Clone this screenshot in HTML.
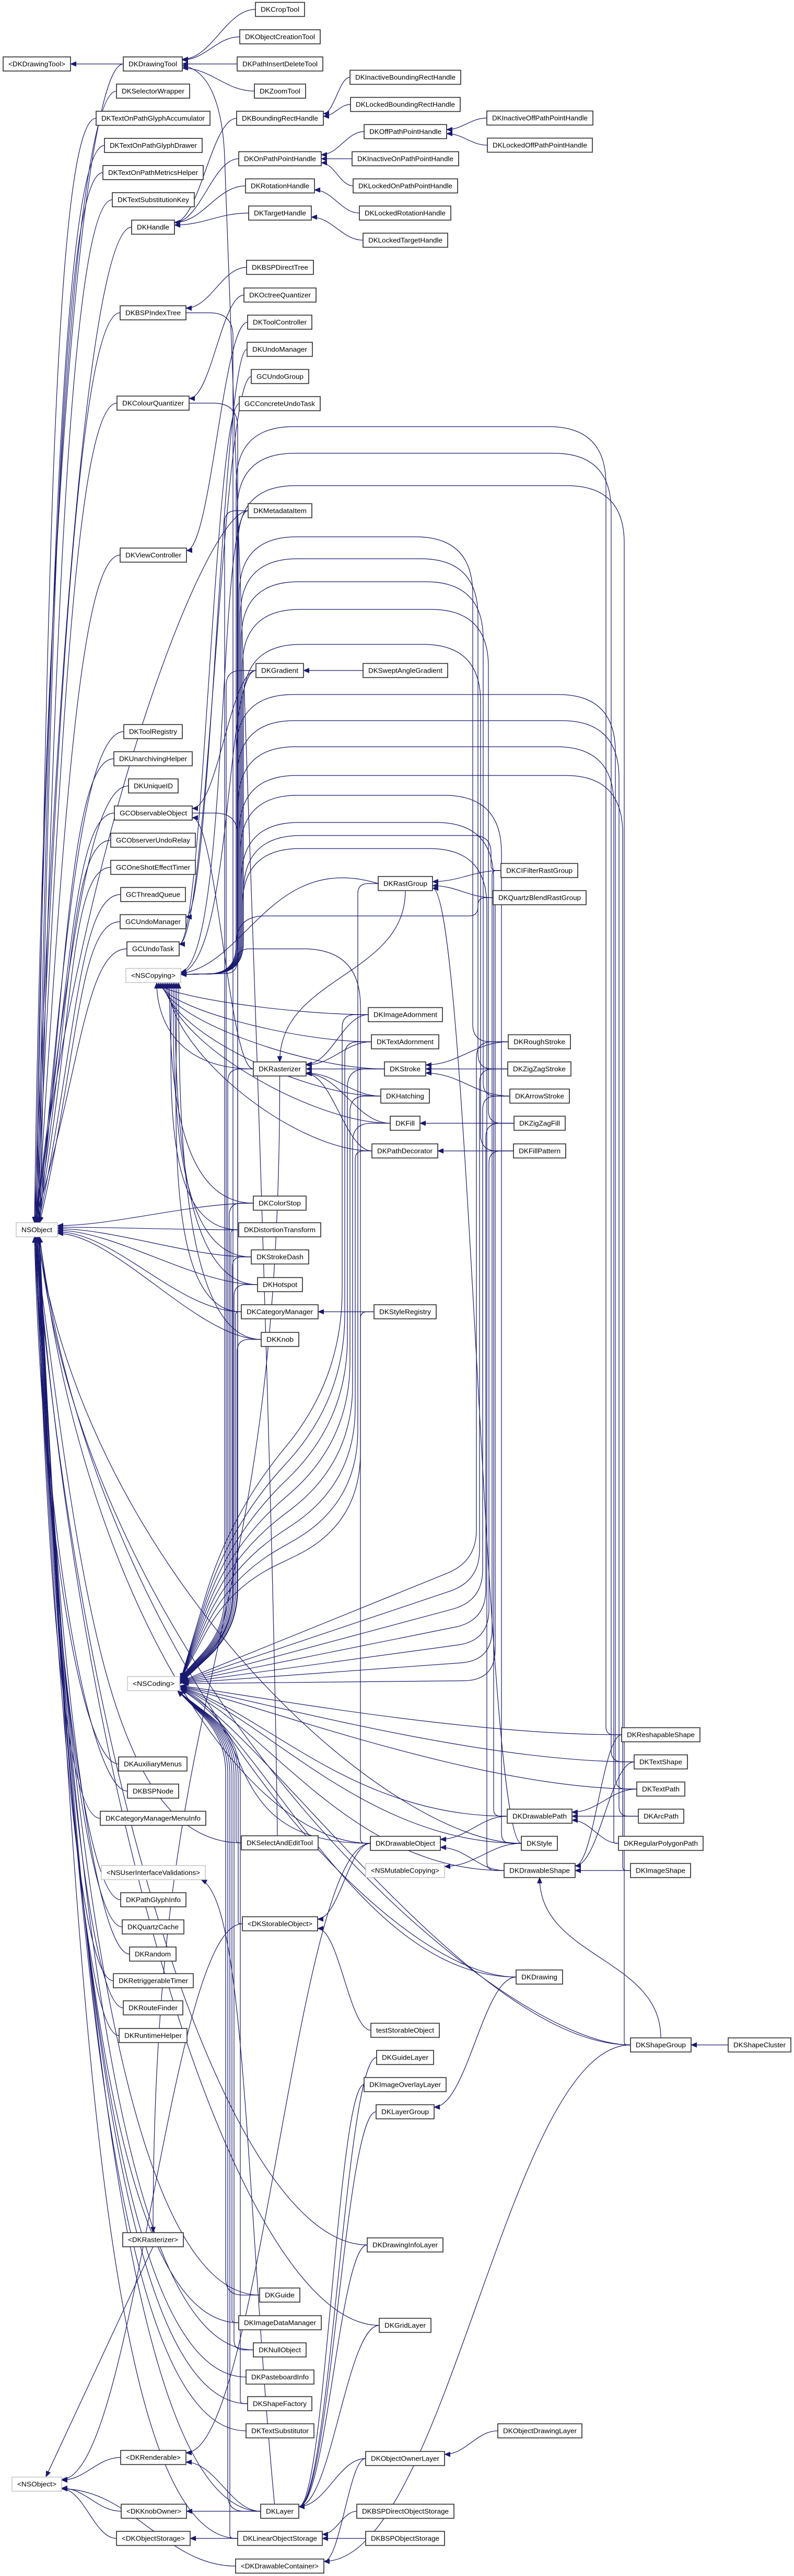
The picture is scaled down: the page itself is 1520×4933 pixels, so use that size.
<!DOCTYPE html>
<html><head><meta charset="utf-8">
<style>
html,body{margin:0;padding:0;background:#fff;}
svg{display:block;}
.n rect{fill:#fff;stroke:#2a2a2a;stroke-width:1.6;}
.n.g rect{stroke:#c0c0c0;stroke-width:1.4;}
.n text{font-family:"Liberation Sans",sans-serif;font-size:13px;fill:#000;text-anchor:middle;}
.e{fill:none;stroke:#191970;stroke-width:1.2;}
</style></head>
<body>
<svg id="s" xmlns="http://www.w3.org/2000/svg" width="1520" height="4933" viewBox="0 0 1520 4933">
<defs><marker id="a" viewBox="0 0 12 10" refX="11" refY="5" markerWidth="12" markerHeight="10" markerUnits="userSpaceOnUse" orient="auto"><path d="M0,0 L12,5 L0,10 z" fill="#191970"/></marker></defs>
<g id="edges"></g>
<g id="nodes">
<g class="n"><rect x="6" y="109" width="129" height="27"/><text x="70.5" y="127">&lt;DKDrawingTool&gt;</text></g>
<g class="n"><rect x="236" y="109" width="113" height="27"/><text x="292.5" y="127">DKDrawingTool</text></g>
<g class="n"><rect x="223" y="161" width="140" height="27"/><text x="293" y="179">DKSelectorWrapper</text></g>
<g class="n"><rect x="184" y="213" width="218" height="27"/><text x="293" y="231">DKTextOnPathGlyphAccumulator</text></g>
<g class="n"><rect x="200" y="265" width="187" height="27"/><text x="293.5" y="283">DKTextOnPathGlyphDrawer</text></g>
<g class="n"><rect x="197" y="317" width="192" height="27"/><text x="293" y="335">DKTextOnPathMetricsHelper</text></g>
<g class="n"><rect x="215" y="369" width="157" height="27"/><text x="293.5" y="387">DKTextSubstitutionKey</text></g>
<g class="n"><rect x="252" y="421.5" width="82" height="27"/><text x="293" y="439.5">DKHandle</text></g>
<g class="n"><rect x="489" y="4.5" width="94" height="27"/><text x="536" y="22.5">DKCropTool</text></g>
<g class="n"><rect x="459" y="57" width="154" height="27"/><text x="536" y="75">DKObjectCreationTool</text></g>
<g class="n"><rect x="454" y="109" width="164" height="27"/><text x="536" y="127">DKPathInsertDeleteTool</text></g>
<g class="n"><rect x="487" y="161" width="98" height="27"/><text x="536" y="179">DKZoomTool</text></g>
<g class="n"><rect x="453" y="213" width="166" height="27"/><text x="536" y="231">DKBoundingRectHandle</text></g>
<g class="n"><rect x="457" y="290.5" width="158" height="27"/><text x="536" y="308.5">DKOnPathPointHandle</text></g>
<g class="n"><rect x="470" y="342.5" width="132" height="27"/><text x="536" y="360.5">DKRotationHandle</text></g>
<g class="n"><rect x="476" y="394.5" width="120" height="27"/><text x="536" y="412.5">DKTargetHandle</text></g>
<g class="n"><rect x="670" y="134.5" width="212" height="27"/><text x="776" y="152.5">DKInactiveBoundingRectHandle</text></g>
<g class="n"><rect x="671" y="186.5" width="210" height="27"/><text x="776" y="204.5">DKLockedBoundingRectHandle</text></g>
<g class="n"><rect x="697" y="238.5" width="158" height="27"/><text x="776" y="256.5">DKOffPathPointHandle</text></g>
<g class="n"><rect x="674" y="290.5" width="204" height="27"/><text x="776" y="308.5">DKInactiveOnPathPointHandle</text></g>
<g class="n"><rect x="676" y="342.5" width="200" height="27"/><text x="776" y="360.5">DKLockedOnPathPointHandle</text></g>
<g class="n"><rect x="688" y="394.5" width="175" height="27"/><text x="775.5" y="412.5">DKLockedRotationHandle</text></g>
<g class="n"><rect x="695" y="446.5" width="162" height="27"/><text x="776" y="464.5">DKLockedTargetHandle</text></g>
<g class="n"><rect x="932" y="212.5" width="203" height="27"/><text x="1033.5" y="230.5">DKInactiveOffPathPointHandle</text></g>
<g class="n"><rect x="933" y="264.5" width="201" height="27"/><text x="1033.5" y="282.5">DKLockedOffPathPointHandle</text></g>
<g class="n"><rect x="472" y="498.5" width="128" height="27"/><text x="536" y="516.5">DKBSPDirectTree</text></g>
<g class="n"><rect x="467" y="551.5" width="138" height="27"/><text x="536" y="569.5">DKOctreeQuantizer</text></g>
<g class="n"><rect x="474" y="603.5" width="123" height="27"/><text x="535.5" y="621.5">DKToolController</text></g>
<g class="n"><rect x="473" y="655.5" width="125" height="27"/><text x="535.5" y="673.5">DKUndoManager</text></g>
<g class="n"><rect x="481" y="707.5" width="110" height="27"/><text x="536" y="725.5">GCUndoGroup</text></g>
<g class="n"><rect x="458" y="759.5" width="155" height="27"/><text x="535.5" y="777.5">GCConcreteUndoTask</text></g>
<g class="n"><rect x="230" y="585.5" width="126" height="27"/><text x="293" y="603.5">DKBSPIndexTree</text></g>
<g class="n"><rect x="224" y="758.5" width="138" height="27"/><text x="293" y="776.5">DKColourQuantizer</text></g>
<g class="n"><rect x="475" y="964.5" width="122" height="27"/><text x="536" y="982.5">DKMetadataItem</text></g>
<g class="n"><rect x="230" y="1049.5" width="127" height="27"/><text x="293.5" y="1067.5">DKViewController</text></g>
<g class="n"><rect x="490" y="1270.5" width="91" height="27"/><text x="535.5" y="1288.5">DKGradient</text></g>
<g class="n"><rect x="695" y="1270.5" width="162" height="27"/><text x="776" y="1288.5">DKSweptAngleGradient</text></g>
<g class="n"><rect x="237" y="1387.5" width="112" height="27"/><text x="293" y="1405.5">DKToolRegistry</text></g>
<g class="n"><rect x="218" y="1439.5" width="150" height="27"/><text x="293" y="1457.5">DKUnarchivingHelper</text></g>
<g class="n"><rect x="246" y="1491.5" width="95" height="27"/><text x="293.5" y="1509.5">DKUniqueID</text></g>
<g class="n"><rect x="219" y="1543.5" width="149" height="27"/><text x="293.5" y="1561.5">GCObservableObject</text></g>
<g class="n"><rect x="212" y="1595.5" width="162" height="27"/><text x="293" y="1613.5">GCObserverUndoRelay</text></g>
<g class="n"><rect x="212" y="1647.5" width="162" height="27"/><text x="293" y="1665.5">GCOneShotEffectTimer</text></g>
<g class="n"><rect x="231" y="1699.5" width="124" height="27"/><text x="293" y="1717.5">GCThreadQueue</text></g>
<g class="n"><rect x="230" y="1751.5" width="126" height="27"/><text x="293" y="1769.5">GCUndoManager</text></g>
<g class="n"><rect x="243" y="1803.5" width="100" height="27"/><text x="293" y="1821.5">GCUndoTask</text></g>
<g class="n g"><rect x="241" y="1854.5" width="105" height="27"/><text x="293.5" y="1872.5">&lt;NSCopying&gt;</text></g>
<g class="n"><rect x="724" y="1678.5" width="104" height="27"/><text x="776" y="1696.5">DKRastGroup</text></g>
<g class="n"><rect x="959" y="1653.5" width="147" height="27"/><text x="1032.5" y="1671.5">DKCIFilterRastGroup</text></g>
<g class="n"><rect x="944" y="1705.5" width="178" height="27"/><text x="1033" y="1723.5">DKQuartzBlendRastGroup</text></g>
<g class="n"><rect x="705" y="1929.5" width="142" height="27"/><text x="776" y="1947.5">DKImageAdornment</text></g>
<g class="n"><rect x="711" y="1981.5" width="129" height="27"/><text x="775.5" y="1999.5">DKTextAdornment</text></g>
<g class="n"><rect x="485" y="2033.5" width="101" height="27"/><text x="535.5" y="2051.5">DKRasterizer</text></g>
<g class="n"><rect x="736" y="2033.5" width="79" height="27"/><text x="775.5" y="2051.5">DKStroke</text></g>
<g class="n"><rect x="729" y="2085.5" width="93" height="27"/><text x="775.5" y="2103.5">DKHatching</text></g>
<g class="n"><rect x="747" y="2137.5" width="57" height="27"/><text x="775.5" y="2155.5">DKFill</text></g>
<g class="n"><rect x="712" y="2190.5" width="126" height="27"/><text x="775" y="2208.5">DKPathDecorator</text></g>
<g class="n"><rect x="973" y="1981.5" width="119" height="27"/><text x="1032.5" y="1999.5">DKRoughStroke</text></g>
<g class="n"><rect x="972" y="2033.5" width="121" height="27"/><text x="1032.5" y="2051.5">DKZigZagStroke</text></g>
<g class="n"><rect x="976" y="2085.5" width="114" height="27"/><text x="1033" y="2103.5">DKArrowStroke</text></g>
<g class="n"><rect x="984" y="2137.5" width="98" height="27"/><text x="1033" y="2155.5">DKZigZagFill</text></g>
<g class="n"><rect x="983" y="2190.5" width="100" height="27"/><text x="1033" y="2208.5">DKFillPattern</text></g>
<g class="n"><rect x="485" y="2290.5" width="101" height="27"/><text x="535.5" y="2308.5">DKColorStop</text></g>
<g class="n g"><rect x="31" y="2341.5" width="79" height="27"/><text x="70.5" y="2359.5">NSObject</text></g>
<g class="n"><rect x="457" y="2341.5" width="157" height="27"/><text x="535.5" y="2359.5">DKDistortionTransform</text></g>
<g class="n"><rect x="481" y="2393.5" width="110" height="27"/><text x="536" y="2411.5">DKStrokeDash</text></g>
<g class="n"><rect x="493" y="2446.5" width="86" height="27"/><text x="536" y="2464.5">DKHotspot</text></g>
<g class="n"><rect x="462" y="2498.5" width="147" height="27"/><text x="535.5" y="2516.5">DKCategoryManager</text></g>
<g class="n"><rect x="716" y="2498.5" width="119" height="27"/><text x="775.5" y="2516.5">DKStyleRegistry</text></g>
<g class="n"><rect x="500" y="2551.5" width="72" height="27"/><text x="536" y="2569.5">DKKnob</text></g>
<g class="n g"><rect x="244" y="3210.5" width="100" height="27"/><text x="294" y="3228.5">&lt;NSCoding&gt;</text></g>
<g class="n"><rect x="1190" y="3308.5" width="150" height="27"/><text x="1265" y="3326.5">DKReshapableShape</text></g>
<g class="n"><rect x="1214" y="3360.5" width="102" height="27"/><text x="1265" y="3378.5">DKTextShape</text></g>
<g class="n"><rect x="1219" y="3412.5" width="92" height="27"/><text x="1265" y="3430.5">DKTextPath</text></g>
<g class="n"><rect x="1222" y="3464.5" width="87" height="27"/><text x="1265.5" y="3482.5">DKArcPath</text></g>
<g class="n"><rect x="1184" y="3516.5" width="162" height="27"/><text x="1265" y="3534.5">DKRegularPolygonPath</text></g>
<g class="n"><rect x="1207" y="3568.5" width="115" height="27"/><text x="1264.5" y="3586.5">DKImageShape</text></g>
<g class="n"><rect x="971" y="3464.5" width="124" height="27"/><text x="1033" y="3482.5">DKDrawablePath</text></g>
<g class="n"><rect x="998" y="3516.5" width="69" height="27"/><text x="1032.5" y="3534.5">DKStyle</text></g>
<g class="n"><rect x="965" y="3568.5" width="136" height="27"/><text x="1033" y="3586.5">DKDrawableShape</text></g>
<g class="n"><rect x="709" y="3516.5" width="134" height="27"/><text x="776" y="3534.5">DKDrawableObject</text></g>
<g class="n g"><rect x="700" y="3568.5" width="151" height="27"/><text x="775.5" y="3586.5">&lt;NSMutableCopying&gt;</text></g>
<g class="n"><rect x="462" y="3515.5" width="147" height="27"/><text x="535.5" y="3533.5">DKSelectAndEditTool</text></g>
<g class="n"><rect x="227" y="3364.5" width="131" height="27"/><text x="292.5" y="3382.5">DKAuxiliaryMenus</text></g>
<g class="n"><rect x="244" y="3416.5" width="98" height="27"/><text x="293" y="3434.5">DKBSPNode</text></g>
<g class="n"><rect x="192" y="3468.5" width="202" height="27"/><text x="293" y="3486.5">DKCategoryManagerMenuInfo</text></g>
<g class="n g"><rect x="194" y="3572.5" width="199" height="27"/><text x="293.5" y="3590.5">&lt;NSUserInterfaceValidations&gt;</text></g>
<g class="n"><rect x="231" y="3624.5" width="125" height="27"/><text x="293.5" y="3642.5">DKPathGlyphInfo</text></g>
<g class="n"><rect x="234" y="3676.5" width="118" height="27"/><text x="293" y="3694.5">DKQuartzCache</text></g>
<g class="n"><rect x="464" y="3670.5" width="144" height="27"/><text x="536" y="3688.5">&lt;DKStorableObject&gt;</text></g>
<g class="n"><rect x="248" y="3728.5" width="89" height="27"/><text x="292.5" y="3746.5">DKRandom</text></g>
<g class="n"><rect x="217" y="3779.5" width="153" height="27"/><text x="293.5" y="3797.5">DKRetriggerableTimer</text></g>
<g class="n"><rect x="236" y="3831.5" width="114" height="27"/><text x="293" y="3849.5">DKRouteFinder</text></g>
<g class="n"><rect x="228" y="3884.5" width="130" height="27"/><text x="293" y="3902.5">DKRuntimeHelper</text></g>
<g class="n"><rect x="988" y="3772.5" width="89" height="27"/><text x="1032.5" y="3790.5">DKDrawing</text></g>
<g class="n"><rect x="710" y="3874.5" width="131" height="27"/><text x="775.5" y="3892.5">testStorableObject</text></g>
<g class="n"><rect x="1207" y="3902.5" width="116" height="27"/><text x="1265" y="3920.5">DKShapeGroup</text></g>
<g class="n"><rect x="1394" y="3902.5" width="120" height="27"/><text x="1454" y="3920.5">DKShapeCluster</text></g>
<g class="n"><rect x="721" y="3926.5" width="109" height="27"/><text x="775.5" y="3944.5">DKGuideLayer</text></g>
<g class="n"><rect x="697" y="3978.5" width="157" height="27"/><text x="775.5" y="3996.5">DKImageOverlayLayer</text></g>
<g class="n"><rect x="720" y="4030.5" width="111" height="27"/><text x="775.5" y="4048.5">DKLayerGroup</text></g>
<g class="n"><rect x="235" y="4275.5" width="116" height="27"/><text x="293" y="4293.5">&lt;DKRasterizer&gt;</text></g>
<g class="n"><rect x="703" y="4285.5" width="145" height="27"/><text x="775.5" y="4303.5">DKDrawingInfoLayer</text></g>
<g class="n"><rect x="497" y="4381.5" width="77" height="27"/><text x="535.5" y="4399.5">DKGuide</text></g>
<g class="n"><rect x="457" y="4434.5" width="158" height="27"/><text x="536" y="4452.5">DKImageDataManager</text></g>
<g class="n"><rect x="726" y="4439.5" width="99" height="27"/><text x="775.5" y="4457.5">DKGridLayer</text></g>
<g class="n"><rect x="485" y="4486.5" width="101" height="27"/><text x="535.5" y="4504.5">DKNullObject</text></g>
<g class="n"><rect x="471" y="4538.5" width="130" height="27"/><text x="536" y="4556.5">DKPasteboardInfo</text></g>
<g class="n"><rect x="474" y="4589.5" width="123" height="27"/><text x="535.5" y="4607.5">DKShapeFactory</text></g>
<g class="n"><rect x="471" y="4641.5" width="130" height="27"/><text x="536" y="4659.5">DKTextSubstitutor</text></g>
<g class="n"><rect x="953" y="4641.5" width="161" height="27"/><text x="1033.5" y="4659.5">DKObjectDrawingLayer</text></g>
<g class="n"><rect x="231" y="4692.5" width="125" height="27"/><text x="293.5" y="4710.5">&lt;DKRenderable&gt;</text></g>
<g class="n"><rect x="700" y="4694.5" width="151" height="27"/><text x="775.5" y="4712.5">DKObjectOwnerLayer</text></g>
<g class="n g"><rect x="23" y="4743.5" width="95" height="27"/><text x="70.5" y="4761.5">&lt;NSObject&gt;</text></g>
<g class="n"><rect x="232" y="4795.5" width="125" height="27"/><text x="294.5" y="4813.5">&lt;DKKnobOwner&gt;</text></g>
<g class="n"><rect x="499" y="4795.5" width="73" height="27"/><text x="535.5" y="4813.5">DKLayer</text></g>
<g class="n"><rect x="683" y="4795.5" width="186" height="27"/><text x="776" y="4813.5">DKBSPDirectObjectStorage</text></g>
<g class="n"><rect x="223" y="4847.5" width="141" height="27"/><text x="293.5" y="4865.5">&lt;DKObjectStorage&gt;</text></g>
<g class="n"><rect x="455" y="4847.5" width="162" height="27"/><text x="536" y="4865.5">DKLinearObjectStorage</text></g>
<g class="n"><rect x="700" y="4847.5" width="151" height="27"/><text x="775.5" y="4865.5">DKBSPObjectStorage</text></g>
<g class="n"><rect x="451" y="4900.5" width="169" height="27"/><text x="535.5" y="4918.5">&lt;DKDrawableContainer&gt;</text></g>
</g>
</svg>
<script>
(function(){
var NS="http://www.w3.org/2000/svg",N={},E=document.getElementById('edges');
var gs=document.querySelectorAll('g.n');
for(var i=0;i<gs.length;i++){var r=gs[i].querySelector('rect'),t=gs[i].querySelector('text').textContent;
var x=+r.getAttribute('x'),y=+r.getAttribute('y'),w=+r.getAttribute('width'),h=+r.getAttribute('height');
N[t]={x1:x,x2:x+w,y1:y,y2:y+h,cx:x+w/2,cy:y+h/2};
var tl=gs[i].querySelector('text');tl.setAttribute('textLength',Math.max(10,w-20));tl.setAttribute('lengthAdjust','spacingAndGlyphs');}
function P(d){var p=document.createElementNS(NS,'path');p.setAttribute('d',d);p.setAttribute('class','e');p.setAttribute('marker-end','url(#a)');E.appendChild(p);}
function rp(p,r){var d='M'+p[0][0]+','+p[0][1];for(var i=1;i<p.length-1;i++){var a=p[i-1],b=p[i],c=p[i+1];var l1=Math.hypot(b[0]-a[0],b[1]-a[1]),l2=Math.hypot(c[0]-b[0],c[1]-b[1]);if(l1<0.1||l2<0.1)continue;var rr=Math.min(r,l1/2,l2/2);
var sx=b[0]+(a[0]-b[0])*rr/l1,sy=b[1]+(a[1]-b[1])*rr/l1,ex=b[0]+(c[0]-b[0])*rr/l2,ey=b[1]+(c[1]-b[1])*rr/l2;d+=' L'+sx+','+sy+' Q'+b[0]+','+b[1]+' '+ex+','+ey;}
var q=p[p.length-1];d+=' L'+q[0]+','+q[1];return d;}
function T(a,b,v){var c=N[a],p=N[b];if(!c||!p)return;var sx,sy,ex,ey;
if(!v&&p.x2<c.x1-10){sx=c.x1;sy=c.cy;ex=p.x2;ey=p.cy+Math.max(-9,Math.min(9,(c.cy-p.cy)*0.15));var k=(sx-ex)*0.4;P('M'+sx+','+sy+' C'+(sx-k)+','+sy+' '+(ex+k)+','+ey+' '+ex+','+ey);return;}
if(p.cy>c.cy){sx=c.cx;sy=c.y2;ex=p.cx;ey=p.y1;}else{sx=c.cx;sy=c.y1;ex=p.cx;ey=p.y2;}
var m=(sy+ey)/2;P('M'+sx+','+sy+' C'+sx+','+m+' '+ex+','+m+' '+ex+','+ey);}
var tr=[['DKDrawingTool','<DKDrawingTool>'],['DKCropTool','DKDrawingTool'],['DKObjectCreationTool','DKDrawingTool'],['DKPathInsertDeleteTool','DKDrawingTool'],['DKZoomTool','DKDrawingTool'],['DKInactiveBoundingRectHandle','DKBoundingRectHandle'],['DKLockedBoundingRectHandle','DKBoundingRectHandle'],['DKBoundingRectHandle','DKHandle'],['DKOnPathPointHandle','DKHandle'],['DKRotationHandle','DKHandle'],['DKTargetHandle','DKHandle'],['DKOffPathPointHandle','DKOnPathPointHandle'],['DKInactiveOnPathPointHandle','DKOnPathPointHandle'],['DKLockedOnPathPointHandle','DKOnPathPointHandle'],['DKInactiveOffPathPointHandle','DKOffPathPointHandle'],['DKLockedOffPathPointHandle','DKOffPathPointHandle'],['DKLockedRotationHandle','DKRotationHandle'],['DKLockedTargetHandle','DKTargetHandle'],['DKBSPDirectTree','DKBSPIndexTree'],['DKOctreeQuantizer','DKColourQuantizer'],['DKToolController','DKViewController'],['DKUndoManager','GCUndoManager'],['GCUndoGroup','GCUndoTask'],['GCConcreteUndoTask','GCUndoTask'],['DKSweptAngleGradient','DKGradient'],['DKGradient','GCObservableObject'],['DKRasterizer','GCObservableObject'],['DKCIFilterRastGroup','DKRastGroup'],['DKQuartzBlendRastGroup','DKRastGroup'],['DKImageAdornment','DKRasterizer'],['DKTextAdornment','DKRasterizer'],['DKStroke','DKRasterizer'],['DKHatching','DKRasterizer'],['DKFill','DKRasterizer'],['DKPathDecorator','DKRasterizer'],['DKRoughStroke','DKStroke'],['DKZigZagStroke','DKStroke'],['DKArrowStroke','DKStroke'],['DKZigZagFill','DKFill'],['DKFillPattern','DKPathDecorator'],['DKStyleRegistry','DKCategoryManager'],['DKDrawablePath','DKDrawableObject'],['DKDrawableShape','DKDrawableObject'],['DKStyle','<NSMutableCopying>'],['DKTextPath','DKDrawablePath'],['DKArcPath','DKDrawablePath'],['DKRegularPolygonPath','DKDrawablePath'],['DKTextShape','DKDrawableShape'],['DKImageShape','DKDrawableShape'],['DKReshapableShape','DKDrawableShape'],['DKShapeCluster','DKShapeGroup'],['DKObjectDrawingLayer','DKObjectOwnerLayer'],['DKBSPDirectObjectStorage','DKLinearObjectStorage'],['DKBSPObjectStorage','DKLinearObjectStorage'],['DKLinearObjectStorage','<DKObjectStorage>'],['DKLayer','<DKKnobOwner>'],['DKGuideLayer','DKLayer'],['DKImageOverlayLayer','DKLayer'],['DKLayerGroup','DKLayer'],['DKDrawingInfoLayer','DKLayer'],['DKGridLayer','DKLayer'],['DKObjectOwnerLayer','DKLayer'],['<DKRenderable>','<NSObject>'],['<DKKnobOwner>','<NSObject>'],['<DKObjectStorage>','<NSObject>'],['<DKDrawableContainer>','<NSObject>'],['DKDrawableObject','<DKStorableObject>'],['testStorableObject','<DKStorableObject>'],['DKDrawing','DKLayerGroup'],['DKShapeGroup','<DKDrawableContainer>'],['DKObjectOwnerLayer','<DKDrawableContainer>'],['DKLayer','<DKRenderable>'],['DKDrawableObject','<DKRenderable>'],['DKStyle','DKRastGroup'],['<DKStorableObject>','<NSObject>']];
tr.forEach(function(e){T(e[0],e[1]);});
T('DKRastGroup','DKRasterizer',1);T('DKShapeGroup','DKDrawableShape',1);T('DKRasterizer','<DKRasterizer>',1);
var r=N['<DKRasterizer>'];P('M'+r.cx+','+r.y2+' L88,4743');
P('M531,3515 C520,2600 440,600 430,300 C425,180 390,130 349,126');
var L=N['DKLayer'],U=N['<NSUserInterfaceValidations>'];P('M'+(L.cx-10)+','+L.y1+' C470,4200 470,3640 '+(U.x2-8)+','+U.y2);
// NSObject from above
var top=['DKDrawingTool','DKSelectorWrapper','DKTextOnPathGlyphAccumulator','DKTextOnPathGlyphDrawer','DKTextOnPathMetricsHelper','DKTextSubstitutionKey','DKHandle','DKBSPIndexTree','DKColourQuantizer','DKViewController','DKToolRegistry','DKUnarchivingHelper','DKUniqueID','GCObservableObject','GCObserverUndoRelay','GCOneShotEffectTimer','GCThreadQueue','GCUndoManager','GCUndoTask','DKMetadataItem'];
top.forEach(function(n,i){var c=N[n];P('M'+c.x1+','+c.cy+' C'+(c.x1-80)+','+c.cy+' '+(82+i*4)+','+(c.cy+(2341.5-c.cy)*0.45)+' '+(66+(i%6)*2)+',2341.5');});
var bot=['DKAuxiliaryMenus','DKBSPNode','DKCategoryManagerMenuInfo','DKPathGlyphInfo','DKQuartzCache','DKRandom','DKRetriggerableTimer','DKRouteFinder','DKRuntimeHelper','DKGuide','DKImageDataManager','DKNullObject','DKPasteboardInfo','DKShapeFactory','DKTextSubstitutor','DKLayer','DKLinearObjectStorage','DKDrawableObject','DKSelectAndEditTool','DKDrawingInfoLayer','DKGridLayer','DKStyle','DKShapeGroup','DKDrawing'];
bot.forEach(function(n,i){var c=N[n];var far=c.x1>400;P('M'+c.x1+','+c.cy+' C'+(c.x1-(far?260:70))+','+c.cy+' '+(80+i*4)+','+(c.cy-(c.cy-2368.5)*0.45)+' '+(66+(i%6)*2)+',2368.5');});
['DKColorStop','DKDistortionTransform','DKStrokeDash','DKHotspot','DKCategoryManager','DKKnob'].forEach(function(n,i){var c=N[n];var ey=2347+i*3;P('M'+c.x1+','+c.cy+' C'+(c.x1-120)+','+c.cy+' 220,'+ey+' 110,'+ey);});
// NSCopying
['DKRasterizer','DKImageAdornment','DKTextAdornment','DKStroke','DKHatching','DKFill','DKPathDecorator','DKColorStop','DKDistortionTransform','DKStrokeDash','DKHotspot','DKCategoryManager','DKKnob'].forEach(function(n,i){var c=N[n];var ex=300+i*3.5;P('M'+c.x1+','+c.cy+' C'+(c.x1-150)+','+c.cy+' '+ex+','+(1882+(c.cy-1882)*0.4)+' '+ex+',1882');});
['DKMetadataItem','DKGradient'].forEach(function(n,i){var c=N[n];P('M'+c.x1+','+c.cy+' C'+(c.x1-60)+','+c.cy+' '+(440+i*6)+',1840 346,'+(1862+i*2));});
var rg=N['DKRastGroup'];P('M'+rg.x1+','+rg.cy+' C520,1630 470,1850 346,1864');
var arcs=[['DKReshapableShape',1160,817],['DKTextShape',1170,868],['DKShapeGroup',1195,930],['DKRoughStroke',905,1028],['DKZigZagStroke',915,1070],['DKArrowStroke',925,1114],['DKZigZagFill',935,1167],['DKFillPattern',920,1234],['DKTextPath',1178,1330],['DKArcPath',1185,1380],['DKRegularPolygonPath',1175,1430],['DKImageShape',1192,1485],['DKStyle',960,1523],['DKDrawablePath',945,1575],['DKDrawableShape',932,1625],['DKCIFilterRastGroup',940,1600],['DKQuartzBlendRastGroup',915,1754],['DKDrawableObject',690,1817]];
arcs.forEach(function(a,i){var c=N[a[0]],xr=a[1],yt=a[2],xl=452+(i%8)*2;P(rp([[c.x1,c.cy],[xr,c.cy],[xr,yt],[xl,yt],[xl,1864],[346,1866]],110));});
// NSCoding
var C=[344,3224];
['DKMetadataItem','DKGradient','DKRasterizer','DKColorStop','DKDistortionTransform','DKStrokeDash','DKHotspot','DKCategoryManager','DKKnob','GCObservableObject','DKBSPIndexTree','DKColourQuantizer'].forEach(function(n,i){var c=N[n];var xr=Math.min(c.x1-8,430+i*3);if(c.x2<400){xr=c.x2+60+i*3;P(rp([[c.x2,c.cy],[xr,c.cy],[xr,3120],[344,3214+i]],150));return;}P(rp([[c.x1,c.cy],[xr,c.cy],[xr,3120],[344,3214+i]],150));});
['DKImageAdornment','DKTextAdornment','DKStroke','DKHatching','DKFill','DKPathDecorator','DKRastGroup','DKStyleRegistry'].forEach(function(n,i){var c=N[n];var xr=655+i*5;P(rp([[c.x1,c.cy],[xr,c.cy],[xr,2640+i*40],[440,2900+i*20],[346,3216]],180));});
['DKRoughStroke','DKZigZagStroke','DKArrowStroke','DKZigZagFill','DKFillPattern','DKCIFilterRastGroup','DKQuartzBlendRastGroup'].forEach(function(n,i){var c=N[n];var xr=912+i*6;P(rp([[c.x1,c.cy],[xr,c.cy],[xr,2990+i*38],[350,3218+i]],60));});
['DKReshapableShape','DKTextShape','DKTextPath','DKDrawablePath','DKStyle','DKDrawableShape','DKDrawableObject','DKShapeGroup','DKDrawing'].forEach(function(n,i){var c=N[n];P('M'+c.x1+','+c.cy+' C'+(c.x1-300)+','+c.cy+' 500,'+(3250+i*8)+' 346,'+(3228+i));});
['DKGuide','DKLayer','DKLinearObjectStorage','DKImageDataManager','DKNullObject','DKSelectAndEditTool','<DKStorableObject>','DKShapeFactory'].forEach(function(n,i){var c=N[n];var xr=432+i*4;P(rp([[c.x1,c.cy],[xr,c.cy],[xr,3330],[340,3238]],120));});
})();
</script>
</body></html>
